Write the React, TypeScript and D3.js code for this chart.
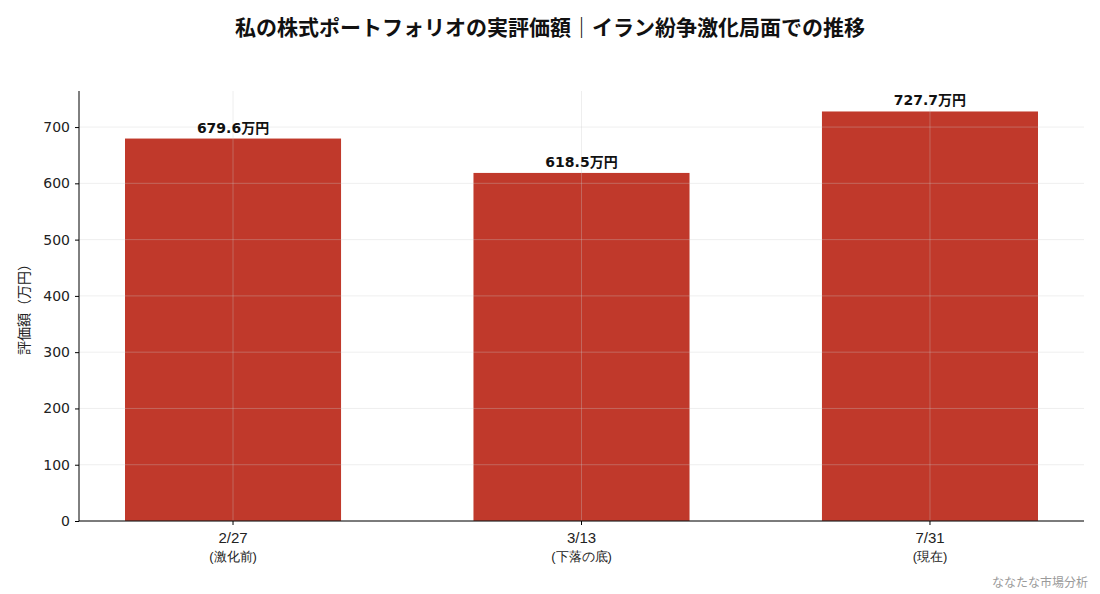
import React, { useEffect, useRef } from 'react';
import * as d3 from 'd3';

const DATES = ['2/27', '3/13', '7/31'];
const NOTES = ['(激化前)', '(下落の底)', '(現在)'];
const VALUES = [679.6, 618.5, 727.7];
const Y_TICKS = [0, 100, 200, 300, 400, 500, 600, 700];

const TITLE = '私の株式ポートフォリオの実評価額｜イラン紛争激化局面での推移';
const Y_LABEL = '評価額（万円）';
const CREDIT = 'ななたな市場分析';

const FONT = '"DejaVu Sans", "Noto Sans CJK JP", sans-serif';
const CJK_FONT = '"Noto Sans CJK JP", sans-serif';
const BAR_COLOR = '#c0392b';

const App: React.FC = () => {
  const svgRef = useRef<SVGSVGElement | null>(null);

  useEffect(() => {
    document.body.style.margin = '0';
    if (!svgRef.current) return;

    const width = 1100;
    const height = 594;
    const m = { top: 91, right: 16, bottom: 73, left: 79 };
    const innerW = width - m.left - m.right;
    const innerH = height - m.top - m.bottom;

    const svg = d3.select(svgRef.current);
    svg.selectAll('*').remove();
    svg.attr('width', width).attr('height', height).style('font-family', FONT);

    // Title
    svg.append('text')
      .attr('x', width / 2)
      .attr('y', 35)
      .attr('text-anchor', 'middle')
      .style('font-family', CJK_FONT)
      .style('font-size', '21px')
      .style('font-weight', '700')
      .attr('fill', '#111')
      .text(TITLE);

    const g = svg.append('g').attr('transform', `translate(${m.left},${m.top})`);

    const x = d3.scaleBand<string>()
      .domain(DATES)
      .range([0, innerW])
      .paddingInner(0.38)
      .paddingOuter(0.132);

    const y = d3.scaleLinear()
      .domain([0, d3.max(VALUES)! * 1.05])
      .range([innerH, 0]);

    // Bars
    g.selectAll('rect.bar')
      .data(VALUES)
      .enter()
      .append('rect')
      .attr('class', 'bar')
      .attr('x', (d, i) => x(DATES[i])!)
      .attr('y', (d) => y(d))
      .attr('width', x.bandwidth())
      .attr('height', (d) => innerH - y(d))
      .attr('fill', BAR_COLOR);

    // Grid on top of the bars, faint
    const grid = g.append('g').attr('stroke', '#c8c8c8').attr('stroke-opacity', 0.4).attr('stroke-width', 0.8);
    Y_TICKS.forEach((t) => {
      grid.append('line')
        .attr('x1', 0).attr('x2', innerW)
        .attr('y1', y(t)).attr('y2', y(t));
    });
    DATES.forEach((dt) => {
      const cx = x(dt)! + x.bandwidth() / 2;
      grid.append('line')
        .attr('x1', cx).attr('x2', cx)
        .attr('y1', 0).attr('y2', innerH);
    });

    // Value labels
    g.selectAll('text.val')
      .data(VALUES)
      .enter()
      .append('text')
      .attr('class', 'val')
      .attr('x', (d, i) => x(DATES[i])! + x.bandwidth() / 2)
      .attr('y', (d) => y(d) - 6)
      .attr('text-anchor', 'middle')
      .style('font-size', '14px')
      .style('font-weight', '700')
      .attr('fill', '#111')
      .text((d) => `${d.toFixed(1)}万円`);

    // Y axis
    const yAxis = g.append('g')
      .call(d3.axisLeft(y).tickValues(Y_TICKS).tickSize(4).tickPadding(5).tickFormat(d3.format('d')));
    yAxis.select('.domain').attr('stroke', '#000').attr('d', `M0,${innerH}V0`);
    yAxis.selectAll('.tick line').attr('stroke', '#000');
    yAxis.selectAll('.tick text')
      .style('font-size', '14px')
      .style('font-family', FONT)
      .attr('fill', '#222');

    // X axis
    const xAxis = g.append('g')
      .attr('transform', `translate(0,${innerH})`)
      .call(d3.axisBottom(x).tickSize(4).tickPadding(4).tickFormat(() => ''));
    xAxis.select('.domain').attr('stroke', '#000').attr('d', `M0,0H${innerW}`);
    xAxis.selectAll('.tick line').attr('stroke', '#000');
    xAxis.selectAll('.tick text').remove();
    xAxis.selectAll<SVGGElement, string>('.tick').each(function (d, i) {
      const t = d3.select(this);
      t.append('text')
        .attr('y', 22)
        .attr('text-anchor', 'middle')
        .style('font-size', '15px')
        .attr('fill', '#222')
        .text(DATES[i]);
      t.append('text')
        .attr('y', 40)
        .attr('text-anchor', 'middle')
        .style('font-size', '13px')
        .attr('fill', '#222')
        .text(NOTES[i]);
    });

    // Y label
    svg.append('text')
      .attr('transform', `translate(29,${m.top + innerH / 2}) rotate(-90)`)
      .attr('text-anchor', 'middle')
      .style('font-family', CJK_FONT)
      .style('font-size', '14px')
      .attr('fill', '#222')
      .text(Y_LABEL);

    // Credit
    svg.append('text')
      .attr('x', 1088)
      .attr('y', 587)
      .attr('text-anchor', 'end')
      .style('font-family', CJK_FONT)
      .style('font-size', '12px')
      .attr('fill', '#9a9a9a')
      .text(CREDIT);
  }, []);

  return <svg ref={svgRef} style={{ display: 'block' }}></svg>;
};

export default App;
